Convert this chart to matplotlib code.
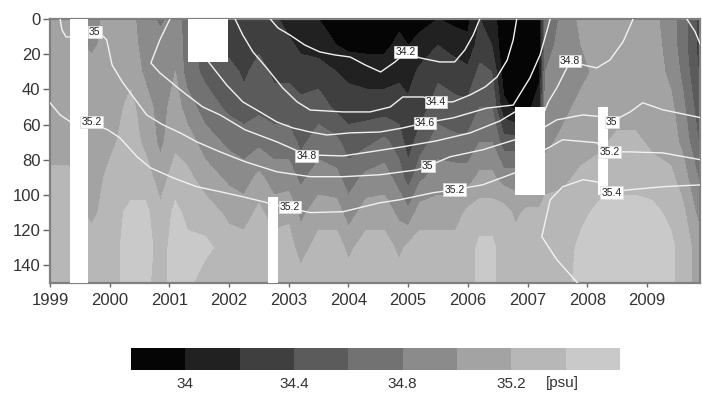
import numpy as np
import matplotlib
matplotlib.use('Agg')
import matplotlib.pyplot as plt
from matplotlib.patches import Rectangle
from matplotlib import font_manager

# ---------------- data ----------------
depths = [0, 15, 30, 50, 70, 90, 110, 130, 150]
times = [1999.0, 1999.3, 1999.7, 2000.0, 2000.35, 2000.6, 2000.85, 2001.1, 2001.3, 2001.6,
         2002.0, 2002.25, 2002.5, 2002.75, 2003.0, 2003.2, 2003.5, 2003.8, 2004.0, 2004.3,
         2004.6, 2004.85, 2005.0, 2005.2, 2005.5, 2005.8, 2006.0, 2006.2, 2006.4, 2006.6,
         2006.8, 2007.0, 2007.2, 2007.3, 2007.6, 2007.9, 2008.2, 2008.5, 2008.8, 2009.1,
         2009.4, 2009.6, 2009.9]
# salinity profiles (psu) at each time, top to bottom
profiles = [
    [35.1, 35.1, 35.1, 35.1, 35.1, 35.25, 35.3, 35.3, 35.3],      # 1999.0
    [35.1, 35.1, 35.1, 35.1, 35.1, 35.25, 35.3, 35.3, 35.3],      # 1999.3
    [34.95, 34.95, 35.1, 35.1, 35.1, 35.1, 35.15, 35.3, 35.3],    # 1999.7
    [35.05, 35.1, 35.1, 35.1, 35.15, 35.25, 35.3, 35.3, 35.3],    # 2000.0
    [35.05, 35.1, 35.15, 35.25, 35.3, 35.3, 35.45, 35.5, 35.5],   # 2000.35
    [34.9, 34.9, 34.95, 35.1, 35.15, 35.3, 35.45, 35.5, 35.45],   # 2000.6
    [34.75, 34.9, 34.9, 34.9, 34.95, 35.1, 35.25, 35.3, 35.3],    # 2000.85
    [34.9, 34.95, 35.0, 35.1, 35.15, 35.3, 35.45, 35.5, 35.5],    # 2001.1
    [34.7, 34.7, 34.7, 34.9, 35.1, 35.25, 35.35, 35.45, 35.45],   # 2001.3
    [34.5, 34.5, 34.55, 34.7, 34.9, 35.1, 35.3, 35.45, 35.3],     # 2001.6
    [34.3, 34.3, 34.5, 34.55, 34.75, 34.95, 35.15, 35.3, 35.3],   # 2002.0
    [34.3, 34.3, 34.35, 34.5, 34.7, 34.9, 35.1, 35.3, 35.3],      # 2002.25
    [34.3, 34.35, 34.5, 34.55, 34.75, 35.05, 35.25, 35.35, 35.3], # 2002.5
    [34.25, 34.3, 34.35, 34.5, 34.7, 34.9, 35.1, 35.3, 35.3],     # 2002.75
    [34.1, 34.25, 34.35, 34.5, 34.7, 34.9, 35.15, 35.3, 35.3],    # 2003.0
    [34.1, 34.15, 34.3, 34.45, 34.55, 34.75, 34.95, 35.1, 35.3],  # 2003.2
    [34.0, 34.1, 34.3, 34.5, 34.7, 34.9, 35.1, 35.3, 35.3],       # 2003.5
    [33.9, 34.0, 34.2, 34.35, 34.65, 34.85, 35.1, 35.3, 35.3],    # 2003.8
    [33.9, 33.95, 34.15, 34.3, 34.5, 34.7, 34.9, 35.15, 35.3],    # 2004.0
    [33.9, 33.95, 34.1, 34.3, 34.55, 34.85, 35.1, 35.3, 35.3],    # 2004.3
    [33.9, 33.95, 34.1, 34.3, 34.65, 34.9, 35.1, 35.3, 35.3],     # 2004.6
    [33.95, 34.05, 34.15, 34.3, 34.5, 34.7, 34.95, 35.15, 35.3],  # 2004.85
    [33.9, 34.0, 34.1, 34.25, 34.3, 34.5, 34.85, 35.25, 35.3],    # 2005.0
    [33.95, 34.05, 34.25, 34.3, 34.5, 34.75, 35.1, 35.3, 35.3],   # 2005.2
    [34.0, 34.2, 34.35, 34.5, 34.7, 34.9, 35.1, 35.3, 35.3],      # 2005.5
    [33.95, 34.1, 34.3, 34.45, 34.65, 34.9, 35.1, 35.3, 35.3],    # 2005.8
    [33.95, 34.05, 34.25, 34.45, 34.65, 34.9, 35.25, 35.3, 35.3], # 2006.0
    [34.2, 34.3, 34.45, 34.6, 34.8, 35.05, 35.3, 35.45, 35.45],   # 2006.2
    [34.1, 34.2, 34.4, 34.6, 34.8, 35.05, 35.3, 35.45, 35.45],    # 2006.4
    [33.85, 33.85, 33.9, 34.05, 34.5, 34.9, 35.3, 35.3, 35.3],    # 2006.6
    [33.85, 33.85, 33.85, 33.95, 34.5, 34.9, 35.15, 35.3, 35.3],  # 2006.8
    [33.85, 33.85, 33.9, 33.95, 34.5, 34.9, 35.25, 35.3, 35.3],   # 2007.0
    [33.9, 33.9, 33.95, 34.1, 34.5, 34.9, 35.25, 35.3, 35.3],     # 2007.2
    [34.65, 34.7, 34.8, 34.9, 34.95, 35.1, 35.3, 35.3, 35.3],     # 2007.3
    [34.85, 34.9, 34.9, 34.95, 35.05, 35.15, 35.3, 35.3, 35.3],   # 2007.6
    [35.05, 35.0, 34.95, 35.05, 35.1, 35.25, 35.35, 35.45, 35.5], # 2007.9
    [35.1, 35.1, 35.05, 35.1, 35.15, 35.3, 35.45, 35.5, 35.5],    # 2008.2
    [35.1, 35.1, 35.1, 35.1, 35.25, 35.35, 35.45, 35.5, 35.5],    # 2008.5
    [35.1, 35.1, 35.1, 35.1, 35.25, 35.35, 35.45, 35.5, 35.5],    # 2008.8
    [35.05, 35.1, 35.1, 35.1, 35.15, 35.3, 35.45, 35.5, 35.5],    # 2009.1
    [34.9, 34.9, 34.95, 35.05, 35.1, 35.25, 35.35, 35.45, 35.45], # 2009.4
    [34.7, 34.7, 34.75, 34.85, 34.95, 35.1, 35.25, 35.3, 35.3],   # 2009.6
    [34.3, 34.3, 34.35, 34.45, 34.55, 34.75, 34.9, 35.1, 35.1],   # 2009.9
]
levels = [33.8, 34.0, 34.2, 34.4, 34.6, 34.8, 35.0, 35.2, 35.4, 35.6]
shades = ['#050505', '#212121', '#3f3f3f', '#5b5b5b', '#727272',
          '#8b8b8b', '#a3a3a3', '#b7b7b7', '#c9c9c9']

# smoothed isohalines (time, depth)
iso_342_t = [2002.69, 2002.82, 2003.02, 2003.27, 2003.52, 2003.77, 2004.03, 2004.28, 2004.54,
             2004.78, 2004.95, 2005.20, 2005.53, 2005.78, 2005.95, 2006.09, 2006.20]
iso_342_z = [0, 5.1, 9.1, 14.8, 18.7, 20.4, 21.6, 26.1, 30.1, 24.4, 19.3, 22.1, 24.4, 24.4,
             17.6, 9.1, 0]
iso_344_t = [2002.10, 2002.23, 2002.40, 2002.63, 2002.90, 2003.14, 2003.36, 2003.91, 2004.36,
             2004.70, 2004.91, 2005.25, 2005.48, 2005.75, 2006.04, 2006.29, 2006.49, 2006.66,
             2006.76, 2006.82]
iso_344_z = [0, 9.1, 18.7, 27.8, 39.2, 47.1, 51.7, 52.8, 52.8, 50.0, 44.3, 44.3, 47.1, 47.1,
             43.1, 38.6, 32.9, 23.3, 11.9, 0]
iso_346_t = [2001.60, 2001.96, 2002.23, 2002.52, 2002.80, 2003.07, 2003.36, 2003.64, 2004.03,
             2004.53, 2004.91, 2005.28, 2005.75, 2006.32, 2006.76, 2007.04, 2007.21, 2007.33,
             2007.38]
iso_346_z = [22.0, 37.5, 47.1, 52.8, 58.5, 61.9, 64.2, 65.9, 64.7, 64.2, 61.9, 59.0, 56.2,
             50.6, 48.9, 33.5, 20.4, 6.2, 0]
iso_348_t = [2001.01, 2000.84, 2000.69, 2000.84, 2001.23, 2001.56, 2001.85, 2002.27, 2002.80,
             2003.30, 2003.91, 2004.36, 2004.91, 2005.48, 2006.04, 2006.54, 2006.79, 2007.29,
             2007.35, 2007.49, 2007.71, 2008.16, 2008.38, 2008.60, 2008.77]
iso_348_z = [0, 11.9, 25.0, 30.6, 41.5, 50.0, 54.5, 63.0, 69.8, 77.2, 77.8, 75.5, 72.6, 69.2,
             64.7, 57.9, 52.8, 52.0, 47.0, 39.2, 24.4, 27.8, 23.3, 13.0, 0]
iso_348b_t = [2009.67, 2009.81, 2009.92]
iso_348b_z = [0, 7.4, 16.5]
iso_350_t = [1999.17, 1999.20, 1999.27, 1999.34, 1999.64, 1999.87, 1999.95, 2000.04, 2000.21,
             2000.37, 2000.62, 2000.89, 2001.18, 2001.46, 2001.85, 2002.27, 2002.80, 2003.36,
             2003.91, 2004.53, 2005.15, 2005.31, 2005.70, 2006.25, 2006.79, 2007.29, 2007.49,
             2007.93, 2008.26, 2008.41, 2008.72, 2008.93, 2009.27, 2009.92]
iso_350_z = [0, 6.2, 10.2, 10.2, 7.4, 9.1, 11.9, 26.1, 35.7, 43.1, 54.5, 60.1, 64.7, 69.8,
             75.5, 81.1, 86.8, 89.6, 89.6, 88.5, 85.7, 83.9, 78.3, 74.3, 68.6, 61.3, 57.3,
             54.5, 55.6, 58.4, 52.8, 47.6, 51.6, 56.2]
iso_352_t = [1999.00, 1999.17, 1999.34, 1999.64, 1999.97, 2000.17, 2000.46, 2000.68, 2001.06,
             2001.46, 2001.85, 2002.23, 2002.57, 2002.97, 2003.36, 2003.91, 2004.53, 2004.86,
             2005.42, 2005.78, 2006.25, 2006.79, 2007.29, 2007.59, 2008.16, 2008.33, 2008.72,
             2009.27, 2009.92]
iso_352_z = [47.6, 54.5, 58.4, 58.4, 63.0, 67.5, 78.3, 84.5, 90.2, 95.3, 98.1, 101.0, 103.8,
             107.2, 110.0, 109.5, 104.4, 102.7, 98.7, 97.0, 94.2, 87.4, 74.3, 68.6, 70.3,
             75.5, 75.5, 76.1, 80.1]
iso_354_t = [2007.84, 2007.49, 2007.24, 2007.38, 2007.59, 2007.93, 2008.16, 2008.41, 2008.72,
             2009.27, 2009.92]
iso_354_z = [150, 136.7, 123.7, 102.7, 95.3, 91.3, 92.5, 98.1, 97.0, 95.3, 94.2]

label_t = [1999.75, 1999.70, 2003.30, 2003.02, 2004.96, 2005.47, 2005.28, 2005.33, 2005.78,
           2007.71, 2008.41, 2008.38, 2008.41]
label_z = [7.4, 58.5, 77.8, 106.8, 18.7, 47.1, 59.0, 83.4, 97.0, 23.8, 58.4, 75.5, 98.7]
label_txt = ['35', '35.2', '34.8', '35.2', '34.2', '34.4', '34.6', '35', '35.2',
             '34.8', '35', '35.2', '35.4']

# missing-data gaps
gap_t0 = [1999.335, 2001.31, 2002.65, 2006.79, 2008.18]
gap_t1 = [1999.64, 2001.98, 2002.82, 2007.29, 2008.35]
gap_z0 = [0, 0, 101, 50, 50]
gap_z1 = [150, 24.4, 150, 100, 100]

year_ticks = list(range(1999, 2010))
depth_ticks = [0, 20, 40, 60, 80, 100, 120, 140]
cbar_ticks = [34.0, 34.4, 34.8, 35.2]
cbar_ticklabels = ['34', '34.4', '34.8', '35.2']

# ---------------- plot ----------------
names = {f.name for f in font_manager.fontManager.ttflist}
fam = 'Liberation Sans' if 'Liberation Sans' in names else 'DejaVu Sans'
plt.rcParams['font.family'] = [fam, 'DejaVu Sans']

fig = plt.figure(figsize=(7.02, 3.94), dpi=100)
ax = fig.add_axes([50 / 702, 1 - 283 / 394, 650 / 702, 264 / 394])

S = np.array(profiles).T
cf = ax.contourf(times, depths, S, levels=levels, colors=shades, zorder=1)

line_kw = dict(color='#f2f2f2', lw=1.0, zorder=3, solid_joinstyle='round')
for tt, zz in [(iso_342_t, iso_342_z), (iso_344_t, iso_344_z), (iso_346_t, iso_346_z),
               (iso_348_t, iso_348_z), (iso_348b_t, iso_348b_z), (iso_350_t, iso_350_z),
               (iso_352_t, iso_352_z), (iso_354_t, iso_354_z)]:
    ax.plot(tt, zz, **line_kw)

for t0, t1, z0, z1 in zip(gap_t0, gap_t1, gap_z0, gap_z1):
    ax.add_patch(Rectangle((t0, z0), t1 - t0, z1 - z0, facecolor='white',
                           edgecolor='none', zorder=4))

for t, z, s in zip(label_t, label_z, label_txt):
    ax.text(t, z, s, fontsize=7.5, ha='center', va='center', color='#222222', zorder=5,
            bbox=dict(boxstyle='square,pad=0.12', facecolor='white', edgecolor='#dddddd',
                      lw=0.5))

ax.set_xlim(1999.0, 2009.89)
ax.set_ylim(150, 0)
ax.set_xticks(year_ticks)
ax.set_xticklabels([str(y) for y in year_ticks])
ax.set_yticks(depth_ticks)
for sp in ax.spines.values():
    sp.set_color('#808080')
    sp.set_linewidth(1.6)
ax.tick_params(axis='y', direction='out', length=5, width=1, color='#666666',
               labelsize=12, labelcolor='#333333', pad=2)
ax.tick_params(axis='x', direction='out', length=3, width=1, color='#666666',
               labelsize=12, labelcolor='#333333', pad=4)

cax = fig.add_axes([131 / 702, 1 - 370 / 394, 489 / 702, 22 / 394])
cb = fig.colorbar(cf, cax=cax, orientation='horizontal', ticks=cbar_ticks)
cb.set_ticklabels(cbar_ticklabels)
cb.outline.set_visible(False)
cax.tick_params(length=0, labelsize=11, labelcolor='#333333', pad=5)
fig.text(562 / 702, 1 - 383 / 394, '[psu]', fontsize=11, color='#333333',
         ha='center', va='center')

fig.savefig('out.png', dpi=100)
